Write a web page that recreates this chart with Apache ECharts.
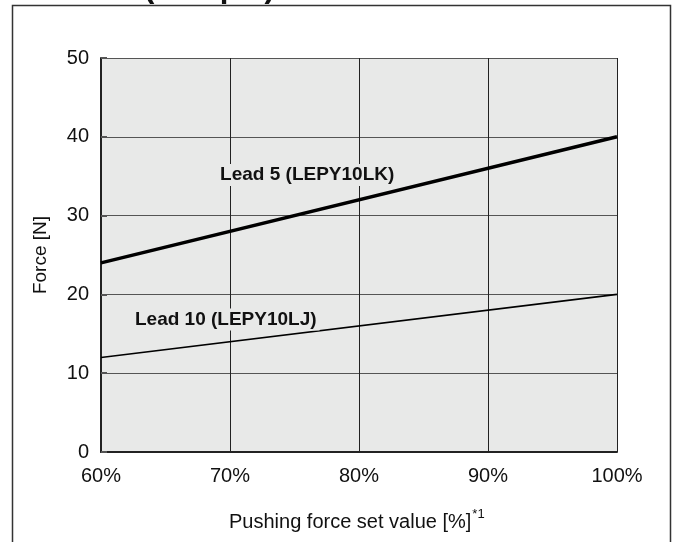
<!DOCTYPE html>
<html>
<head>
<meta charset="utf-8">
<script src="https://cdn.jsdelivr.net/npm/echarts@6/dist/echarts.min.js"></script>
<style>
html,body{margin:0;padding:0;background:#fff;}
#chart{width:676px;height:542px;}
</style>
</head>
<body>
<div id="chart"></div>
<script>
// ---- data ----
var xValues = [60, 100];
var lead5 = [24, 40];
var lead10 = [12, 20];
var xTicks = [60, 70, 80, 90, 100];
var yTicks = [0, 10, 20, 30, 40, 50];
var seriesNames = ['Lead 5 (LEPY10LK)', 'Lead 10 (LEPY10LJ)'];
var xAxisTitle = 'Pushing force set value [%]';
var xAxisNote = '*1';
var yAxisTitle = 'Force [N]';
var topTitle = '(Sample)';

function pairs(xs, ys) { return xs.map(function (x, i) { return [x, ys[i]]; }); }

var FONT = 'Liberation Sans, Arial, Helvetica, sans-serif';
var BG = '#e8e9e8';
var chart = echarts.init(document.getElementById('chart'), null, {renderer: 'canvas'});

function labelPoint(name, coord) {
  return {
    data: [{ coord: coord, value: name }],
    symbol: 'circle',
    symbolSize: 0,
    silent: true,
    animation: false,
    label: {
      show: true,
      position: 'right',
      distance: 0,
      formatter: name,
      color: '#111',
      fontFamily: FONT,
      fontWeight: 'bold',
      fontSize: 19,
      lineHeight: 21,
      backgroundColor: BG,
      padding: [1, 3, 0, 3]
    }
  };
}

chart.setOption({
  animation: false,
  backgroundColor: '#fff',
  grid: {
    left: 101, top: 58, right: 59, bottom: 90,
    show: true, backgroundColor: BG, borderWidth: 0
  },
  xAxis: {
    type: 'value',
    min: xTicks[0], max: xTicks[xTicks.length - 1], interval: 10,
    axisLine: { show: true, lineStyle: { color: '#222', width: 2 } },
    axisTick: { show: false },
    splitLine: { show: true, lineStyle: { color: '#222', width: 1 } },
    axisLabel: {
      formatter: '{value}%', color: '#111', fontFamily: FONT, fontSize: 20, margin: 14
    }
  },
  yAxis: {
    type: 'value',
    min: yTicks[0], max: yTicks[yTicks.length - 1], interval: 10,
    name: yAxisTitle,
    nameLocation: 'middle',
    nameGap: 51,
    nameTextStyle: { color: '#111', fontFamily: FONT, fontSize: 19 },
    axisLine: { show: true, lineStyle: { color: '#222', width: 2 } },
    axisTick: { show: true, inside: true, length: 6, lineStyle: { color: '#555', width: 2 } },
    splitLine: { show: true, lineStyle: { color: '#555', width: 1 } },
    axisLabel: { color: '#111', fontFamily: FONT, fontSize: 20, margin: 12 }
  },
  graphic: [
    {
      type: 'rect', silent: true, z: 100,
      shape: { x: 12.5, y: 5.5, width: 658, height: 600 },
      style: { fill: 'none', stroke: '#333', lineWidth: 1.5 }
    },
    {
      type: 'text', silent: true, z: 100,
      left: 144, top: -27,
      style: { text: topTitle, fill: '#111', font: 'bold 31px ' + FONT }
    },
    {
      type: 'text', silent: true, z: 100,
      left: 229, top: 508,
      style: {
        text: '{a|' + xAxisTitle + '}{b|' + xAxisNote + '}',
        rich: {
          a: { fontFamily: FONT, fontSize: 20, fill: '#111', color: '#111', verticalAlign: 'bottom', lineHeight: 24 },
          b: { fontFamily: FONT, fontSize: 13, fill: '#111', color: '#111', verticalAlign: 'top', lineHeight: 24, padding: [0, 0, 10, 1] }
        }
      }
    }
  ],
  series: [
    {
      name: seriesNames[0], type: 'line', data: pairs(xValues, lead5),
      showSymbol: false, symbol: 'none',
      lineStyle: { color: '#000', width: 3.5 },
      markPoint: labelPoint(seriesNames[0], [69.0, 35.15])
    },
    {
      name: seriesNames[1], type: 'line', data: pairs(xValues, lead10),
      showSymbol: false, symbol: 'none',
      lineStyle: { color: '#000', width: 1.6 },
      markPoint: labelPoint(seriesNames[1], [62.4, 16.8])
    }
  ]
});
</script>
</body>
</html>
